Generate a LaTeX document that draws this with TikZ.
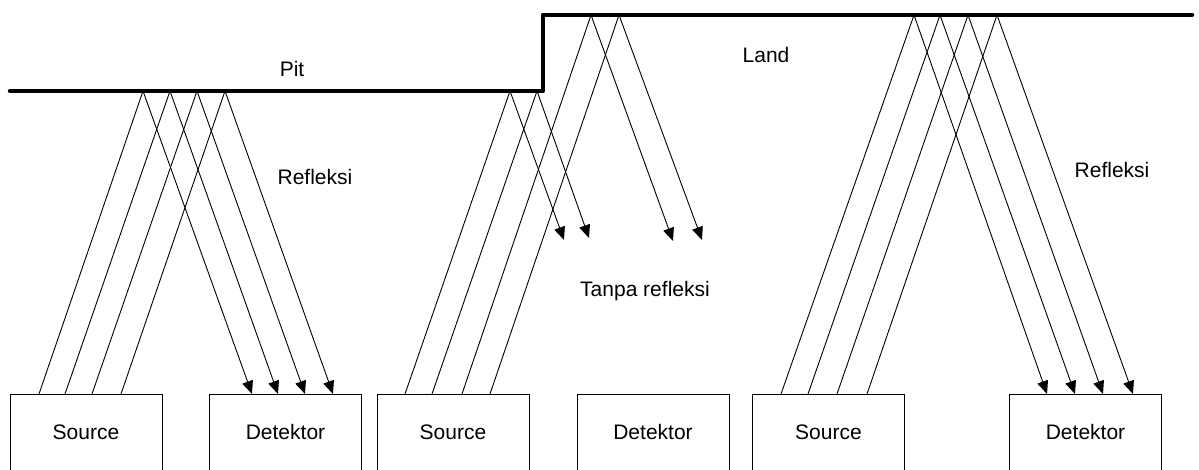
\documentclass[tikz,border=0pt]{standalone}
\usepackage{fontspec}
\setmainfont{Liberation Sans}
\usetikzlibrary{arrows.meta}
\begin{document}
\begin{tikzpicture}[x=1pt,y=-1pt,
  txt/.style={font=\fontsize{21}{25}\selectfont},
  surface/.style={line width=4.5pt,line cap=round,line join=round},
  ray/.style={line width=0.9pt},
  beam/.style={ray,-{Triangle[length=13pt,width=11pt]}},
  unit/.style={txt,draw,line width=0.9pt,minimum width=152pt,inner xsep=0pt,
    inner ysep=0pt,text height=45pt,text depth=80pt,anchor=north},
  tag/.style={txt,anchor=base,inner sep=0pt}]
\clip (0,0) rectangle (1199,469);

% reflecting surface: pit (low) and land (high)
\draw[surface] (10,91) -- (543,91) -- (543,15) -- (1192,15);

% source and detector units
\node[unit] (src1) at (86,394)   {Source};
\node[unit] (det1) at (285.5,394) {Detektor};
\node[unit] (src2) at (453,394)  {Source};
\node[unit] (det2) at (653,394)  {Detektor};
\node[unit] (src3) at (828.5,394) {Source};
\node[unit] (det3) at (1085.5,394) {Detektor};

% labels
\node[tag] (pit)  at (292,76)  {Pit};
\node[tag] (land) at (766,62)  {Land};
\node[tag] (ref1) at (315,184) {Refleksi};
\node[tag] (ref3) at (1112,177) {Refleksi};
\node[tag] (noref) at (645,296) {Tanpa refleksi};

% beam points: left group (pit)
\foreach \n/\s/\p/\d in {a/39/143/252, b/65/170/278, c/92/197/305, d/121/225/333}{
  \coordinate (s1\n) at (\s,394);
  \coordinate (p1\n) at (\p,91);
  \coordinate (d1\n) at (\d,394);
}
% middle group (edge between pit and land)
\coordinate (s2a) at (405,394); \coordinate (p2a) at (510,91); \coordinate (e2a) at (564,240);
\coordinate (s2b) at (432,394); \coordinate (p2b) at (537,91); \coordinate (e2b) at (589,238);
\coordinate (s2c) at (462,394); \coordinate (p2c) at (591,15); \coordinate (e2c) at (673,241);
\coordinate (s2d) at (490,394); \coordinate (p2d) at (619,15); \coordinate (e2d) at (702,240);
% right group (land)
\foreach \n/\s/\p/\d in {a/781/914/1047, b/808/940/1075, c/837/968/1103, d/867/997/1133}{
  \coordinate (s3\n) at (\s,394);
  \coordinate (p3\n) at (\p,15);
  \coordinate (d3\n) at (\d,394);
}

% beams
\foreach \n in {a,b,c,d}{
  \draw[ray]  (s1\n) -- (p1\n);
  \draw[beam] (p1\n) -- (d1\n);
  \draw[ray]  (s2\n) -- (p2\n);
  \draw[beam] (p2\n) -- (e2\n);
  \draw[ray]  (s3\n) -- (p3\n);
  \draw[beam] (p3\n) -- (d3\n);
}
\end{tikzpicture}
\end{document}
